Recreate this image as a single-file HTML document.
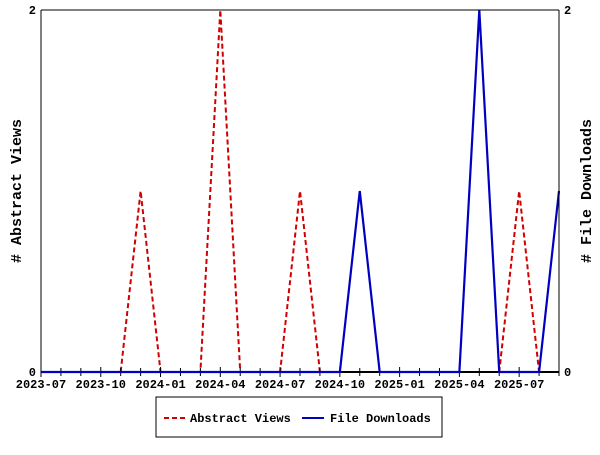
<!DOCTYPE html>
<html><head><meta charset="utf-8"><style>
body{margin:0;background:#fff;width:600px;height:450px;overflow:hidden}
svg text{font-family:"Liberation Mono","DejaVu Sans Mono",monospace;font-weight:bold;font-size:12px;fill:#000}
</style></head><body>
<svg id="chart" width="600" height="450">
<rect x="41" y="10" width="518" height="362" fill="#fff" stroke="none"/>
<g id="redg"></g>
<g id="ticks"></g>
<g id="blueg"></g>
<line x1="41" y1="10" x2="559" y2="10" stroke="#000"/>
<line x1="41" y1="10" x2="41" y2="372" stroke="#000"/>
<line x1="559" y1="10" x2="559" y2="372" stroke="#000"/>
<text x="36" y="14" text-anchor="end">2</text>
<text x="36" y="376" text-anchor="end">0</text>
<text x="564" y="14">2</text>
<text x="564" y="376">0</text>
<text transform="translate(21,191) rotate(-90)" text-anchor="middle" style="font-size:15px"># Abstract Views</text>
<text transform="translate(591,191) rotate(-90)" text-anchor="middle" style="font-size:15px"># File Downloads</text>
<g>
<rect x="156" y="397" width="286" height="40" fill="#fff" stroke="#000"/>
<line x1="164" y1="418" x2="186" y2="418" stroke="#d00000" stroke-width="2" stroke-dasharray="5,3"/>
<text x="190" y="422">Abstract Views</text>
<line x1="302" y1="418" x2="324" y2="418" stroke="#0000c0" stroke-width="2"/>
<text x="330" y="422">File Downloads</text>
</g>
</svg>
<script>
const months = ["2023-07","2023-08","2023-09","2023-10","2023-11","2023-12","2024-01","2024-02","2024-03","2024-04","2024-05","2024-06","2024-07","2024-08","2024-09","2024-10","2024-11","2024-12","2025-01","2025-02","2025-03","2025-04","2025-05","2025-06","2025-07","2025-08","2025-09"];
const abstractViews = [0,0,0,0,0,1,0,0,0,2,0,0,0,1,0,0,0,0,0,0,0,0,0,0,1,0,0];
const fileDownloads = [0,0,0,0,0,0,0,0,0,0,0,0,0,0,0,0,1,0,0,0,0,0,2,0,0,0,1];
const tickLabels = ["2023-07","2023-10","2024-01","2024-04","2024-07","2024-10","2025-01","2025-04","2025-07"];
const yMax = 2;
const X0=41,X1=559,Y0=372,Y1=10;
const NS="http://www.w3.org/2000/svg";
function xs(i){return X0+(X1-X0)*i/(months.length-1);}
function ys(v){return Y0-(Y0-Y1)*v/yMax;}
const tg=document.getElementById('ticks');
const ax=document.createElementNS(NS,'line');
ax.setAttribute('x1',X0);ax.setAttribute('x2',X1);ax.setAttribute('y1',Y0);ax.setAttribute('y2',Y0);
ax.setAttribute('stroke','#000');ax.setAttribute('stroke-width','2');


tg.appendChild(ax);
months.forEach((m,i)=>{
  const t=document.createElementNS(NS,'line');
  const L=tickLabels.includes(m)?5:4;
  t.setAttribute('x1',xs(i));t.setAttribute('x2',xs(i));
  t.setAttribute('y1',Y0-L);t.setAttribute('y2',Y0+L);
  t.setAttribute('stroke','#000');
  
  
  tg.appendChild(t);
  if(tickLabels.includes(m)){
    const tx=document.createElementNS(NS,'text');
    tx.setAttribute('x',xs(i));tx.setAttribute('y',Y0+16);
    tx.setAttribute('text-anchor','middle');
    tx.textContent=m;
    
    
    tg.appendChild(tx);
  }
});
function line(g,vals,color,dash,name,w){
  const p=document.createElementNS(NS,'polyline');
  p.setAttribute('points',vals.map((v,i)=>xs(i)+','+ys(v)).join(' '));
  p.setAttribute('fill','none');p.setAttribute('stroke',color);p.setAttribute('stroke-width',w);
  if(dash)p.setAttribute('stroke-dasharray',dash);
  
  
  document.getElementById(g).appendChild(p);
}
line('redg',abstractViews,'#d00000','5,3','abstract-views-line','2');
line('blueg',fileDownloads,'#0000c0',null,'file-downloads-line','2.2');
</script>
</body></html>
